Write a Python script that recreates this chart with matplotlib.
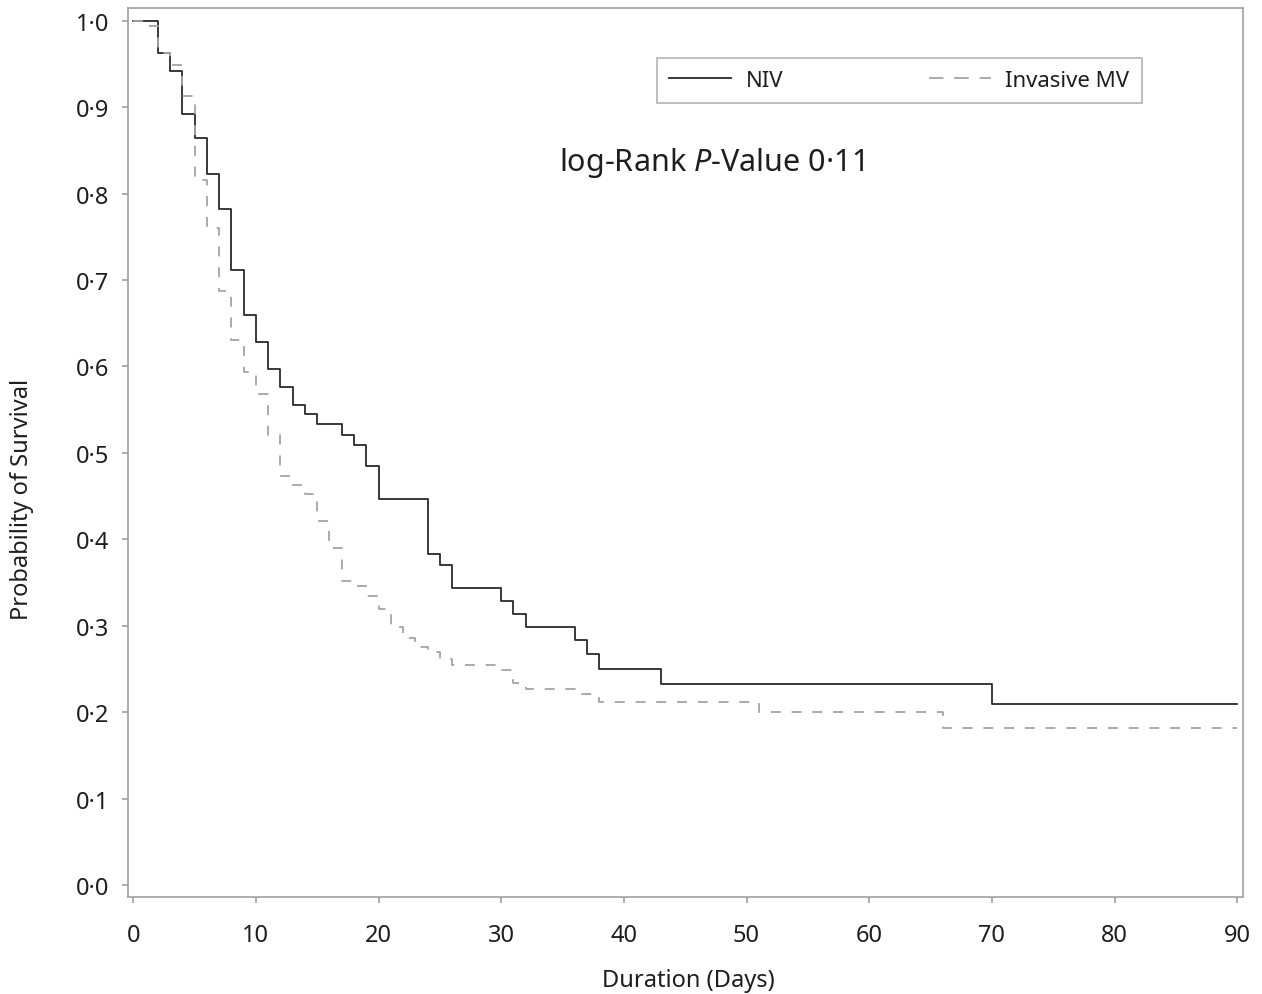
import numpy as np
import matplotlib
matplotlib.use("Agg")
import matplotlib.pyplot as plt
from matplotlib.lines import Line2D

plt.rcParams['font.family'] = ['Noto Sans', 'DejaVu Sans']
plt.rcParams['mathtext.fontset'] = 'custom'
plt.rcParams['mathtext.it'] = 'Noto Sans:italic'
plt.rcParams['mathtext.rm'] = 'Noto Sans'

# Kaplan-Meier steps (days, survival)
niv_days = [0, 2, 3, 4, 5, 6, 7, 8, 9, 10, 11, 12, 13, 14, 15, 17, 18, 19, 20,
            24, 25, 26, 30, 31, 32, 36, 37, 38, 43, 70, 90]
niv_surv = [1.0, 0.962, 0.942, 0.892, 0.864, 0.823, 0.782, 0.711, 0.659, 0.628,
            0.597, 0.576, 0.555, 0.545, 0.533, 0.521, 0.509, 0.485, 0.447,
            0.383, 0.370, 0.344, 0.329, 0.314, 0.299, 0.284, 0.267, 0.250,
            0.233, 0.209, 0.209]

mv_days = [0, 1, 2, 3, 4, 5, 6, 7, 8, 9, 10, 11, 12, 13, 14, 15, 16, 17, 18, 19,
           20, 21, 22, 23, 24, 25, 26, 30, 31, 32, 36, 38, 51, 66, 90]
mv_surv = [1.0, 0.994, 0.962, 0.949, 0.913, 0.816, 0.760, 0.687, 0.630, 0.594,
           0.568, 0.521, 0.473, 0.463, 0.452, 0.421, 0.390, 0.352, 0.346, 0.334,
           0.319, 0.298, 0.286, 0.275, 0.269, 0.261, 0.255, 0.249, 0.234, 0.227,
           0.221, 0.212, 0.200, 0.182, 0.182]

x_ticks = [0, 10, 20, 30, 40, 50, 60, 70, 80, 90]
y_ticks = [0.0, 0.1, 0.2, 0.3, 0.4, 0.5, 0.6, 0.7, 0.8, 0.9, 1.0]
y_ticklabels = ['0·0', '0·1', '0·2', '0·3', '0·4', '0·5', '0·6', '0·7', '0·8', '0·9', '1·0']

frame_col = '#a0a0a0'
text_col = '#1e1e1e'
niv_col = '#2a2a2a'
mv_col = '#a4a4a4'
mv_dash = (0, (5.5, 6))

fig = plt.figure(figsize=(12.62, 9.95), dpi=100)
ax = fig.add_axes([0.1012, 0.0972, 0.8835, 0.8941])

ax.step(niv_days, niv_surv, where='post', color=niv_col, lw=1.3)
ax.step(mv_days, mv_surv, where='post', color=mv_col, lw=1.3, linestyle=mv_dash)

ax.set_xlim(-0.45, 90.45)
ax.set_ylim(-0.0142, 1.015)
ax.set_xticks(x_ticks)
ax.set_yticks(y_ticks)
ax.set_yticklabels(y_ticklabels)

for s in ax.spines.values():
    s.set_color(frame_col)
    s.set_linewidth(1.2)
ax.tick_params(axis='both', colors=frame_col, labelcolor=text_col,
               labelsize=17, length=4.5, width=1.2)
ax.tick_params(axis='y', pad=9)
ax.tick_params(axis='x', pad=14)

ax.text(0.5025, -0.093, 'Duration (Days)', transform=ax.transAxes,
        ha='center', va='center', fontsize=17, color=text_col)
ax.text(-0.095, 0.448, 'Probability of Survival', transform=ax.transAxes,
        rotation=90, ha='center', va='center', fontsize=17, color=text_col)

ax.text(34.7, 0.837, r'log-Rank $\mathit{P}$-Value 0·11', ha='left', va='center',
        fontsize=22, color=text_col)

handles = [Line2D([], [], color=niv_col, lw=1.3),
           Line2D([], [], color=mv_col, lw=1.3, linestyle=(0, (8, 6)))]
leg = ax.legend(handles, ['NIV', 'Invasive MV'], ncol=2,
                bbox_to_anchor=(0.4747, 0.889, 0.4347, 0.0578), loc='center',
                mode='expand', fancybox=False, fontsize=16, handlelength=2.8,
                borderaxespad=0, columnspacing=6, handletextpad=0.65,
                borderpad=0.55)
leg.get_frame().set_edgecolor(frame_col)
leg.get_frame().set_linewidth(1.2)
for t in leg.get_texts():
    t.set_color(text_col)

fig.savefig('out.png', dpi=100)
